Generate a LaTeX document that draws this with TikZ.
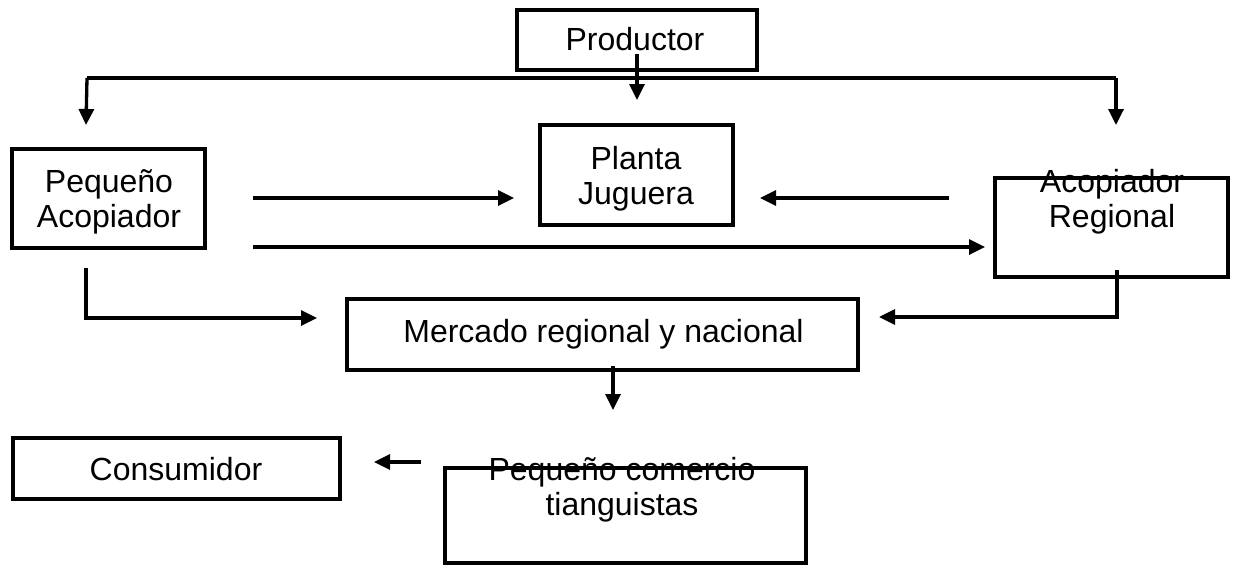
\documentclass[tikz,border=0pt]{standalone}
\usepackage{fontspec}
\setmainfont{Liberation Sans}
\usetikzlibrary{arrows.meta}
\begin{document}
\begin{tikzpicture}[x=1pt,y=-1pt,
  boxst/.style={draw,line width=3.6pt,inner sep=0pt,outer sep=0pt},
  lbl/.style={font=\fontsize{32}{35}\selectfont,align=center,inner sep=0pt},
  conn/.style={line width=3.3pt},
  arr/.style={conn,-{Triangle[length=16pt,width=15pt]}}]
\useasboundingbox (0,0) rectangle (1233,565);
% boxes
\node[boxst,minimum width=240pt,minimum height=60pt] (prod) at (637,40) {};
\node[boxst,minimum width=193pt,minimum height=100pt] (plan) at (636.5,175) {};
\node[boxst,minimum width=193pt,minimum height=99pt] (peq) at (108.5,198.5) {};
\node[boxst,minimum width=233pt,minimum height=99pt] (acr) at (1111.5,227.5) {};
\node[boxst,minimum width=511pt,minimum height=71pt] (merc) at (602.5,334.5) {};
\node[boxst,minimum width=327pt,minimum height=61pt] (cons) at (176.5,468.5) {};
\node[boxst,minimum width=361pt,minimum height=95pt] (pcom) at (625.5,515.5) {};
% labels
\node[lbl,anchor=base] (tprod) at (635,50) {Productor};
\node[lbl] (tplan) at (636,179) {Planta\\Juguera};
\node[lbl] (tpeq) at (109,202) {Pequeño\\Acopiador};
\node[lbl] (tacr) at (1112,202) {Acopiador\\Regional};
\node[lbl,anchor=base] (tmerc) at (603.5,342) {Mercado regional y nacional};
\node[lbl,anchor=base] (tcons) at (176,480) {Consumidor};
\node[lbl] (tpcom) at (622,490) {Pequeño comercio\\tianguistas};
% connector points
\coordinate (p0) at (637,54);
\coordinate (p1) at (637,100);
\coordinate (fl) at (87,78);
\coordinate (fr) at (1116,78);
\coordinate (fla) at (86,125);
\coordinate (fra) at (1116,125);
\coordinate (a1s) at (253,198);
\coordinate (a1e) at (514,198);
\coordinate (a2s) at (949,198);
\coordinate (a2e) at (760,198);
\coordinate (a3s) at (253,247);
\coordinate (a3e) at (985,247);
\coordinate (a4s) at (86,268);
\coordinate (a4c) at (86,318);
\coordinate (a4e) at (317,318);
\coordinate (a5s) at (1117,270);
\coordinate (a5c) at (1117,317);
\coordinate (a5e) at (879,317);
\coordinate (a6s) at (613,366);
\coordinate (a6e) at (613,410);
\coordinate (a7s) at (421,462);
\coordinate (a7e) at (374,462);
% connectors
\draw[arr] (p0) -- (p1);
\draw[conn,line width=4pt] (fl) -- (fr);
\draw[arr] (fl) -- (fla);
\draw[arr] (fr) -- (fra);
\draw[arr] (a1s) -- (a1e);
\draw[arr] (a2s) -- (a2e);
\draw[arr] (a3s) -- (a3e);
\draw[arr] (a4s) -- (a4c) -- (a4e);
\draw[arr] (a5s) -- (a5c) -- (a5e);
\draw[arr] (a6s) -- (a6e);
\draw[arr] (a7s) -- (a7e);
\end{tikzpicture}
\end{document}
